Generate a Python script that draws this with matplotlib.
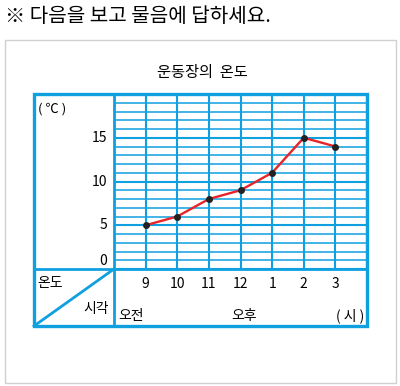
import matplotlib.pyplot as plt
from matplotlib.patches import Rectangle

plt.rcParams['font.family'] = ['Noto Sans CJK KR', 'DejaVu Sans']

# data
hours = ['9', '10', '11', '12', '1', '2', '3']
temps = [5, 6, 8, 9, 11, 15, 14]
y_ticks = [0, 5, 10, 15]

blue = '#0fa0e0'
W, H = 400, 386

fig = plt.figure(figsize=(W / 100, H / 100), dpi=100)

# background layer in pixel coords
bg = fig.add_axes([0, 0, 1, 1])
bg.set_xlim(0, W)
bg.set_ylim(H, 0)
bg.axis('off')

bg.add_patch(Rectangle((5, 40), 391, 343, fill=False, ec='#d0d0d0', lw=1))
bg.text(5, 17, '※ 다음을 보고 물음에 답하세요.', fontsize=14.5, va='center', ha='left')
bg.text(202, 73, '운동장의  온도', fontsize=11, va='center', ha='center')

# table frame
bg.add_patch(Rectangle((34, 94), 333, 232, fill=False, ec=blue, lw=2.4, zorder=3))
bg.plot([114, 114], [94, 326], color=blue, lw=2, zorder=3)
bg.plot([34, 367], [269, 269], color=blue, lw=2, zorder=3)
bg.plot([34, 114], [326, 269], color=blue, lw=2, zorder=3)

bg.text(38, 109, '( ℃ )', fontsize=9.5, va='center', ha='left')
bg.text(37, 283, '온도', fontsize=10, va='center', ha='left')
bg.text(109, 309, '시각', fontsize=10, va='center', ha='right')
bg.text(118, 316, '오전', fontsize=10, va='center', ha='left')
bg.text(244, 316, '오후', fontsize=10, va='center', ha='center')
bg.text(364, 316, '( 시 )', fontsize=10, va='center', ha='right')

# grid area
ax = fig.add_axes([114 / W, 1 - 269 / H, 253 / W, 175 / H])
ax.set_xlim(0, len(hours) + 1)
ax.set_ylim(0, 20)
ax.axis('off')

for v in range(0, 21):
    ax.axhline(v, color=blue, lw=1.5 if v % 5 == 0 else 1.1, zorder=1)
for k in range(0, len(hours) + 2):
    ax.axvline(k, color=blue, lw=1.5, zorder=1)

xs = list(range(1, len(hours) + 1))
ax.plot(xs, temps, color='#e8232a', lw=1.7, zorder=4)
ax.scatter(xs, temps, s=16, color='#222222', zorder=5)

for x, lab in zip(xs, hours):
    ax.text(x, -0.086, lab, transform=ax.get_xaxis_transform(),
            fontsize=10, ha='center', va='center', clip_on=False)
for t in y_ticks:
    yp = t + 0.9 if t == 0 else t
    ax.text(-0.028, yp, str(t), transform=ax.get_yaxis_transform(),
            fontsize=10, ha='right', va='center', clip_on=False)

fig.savefig('out.png', dpi=100)
